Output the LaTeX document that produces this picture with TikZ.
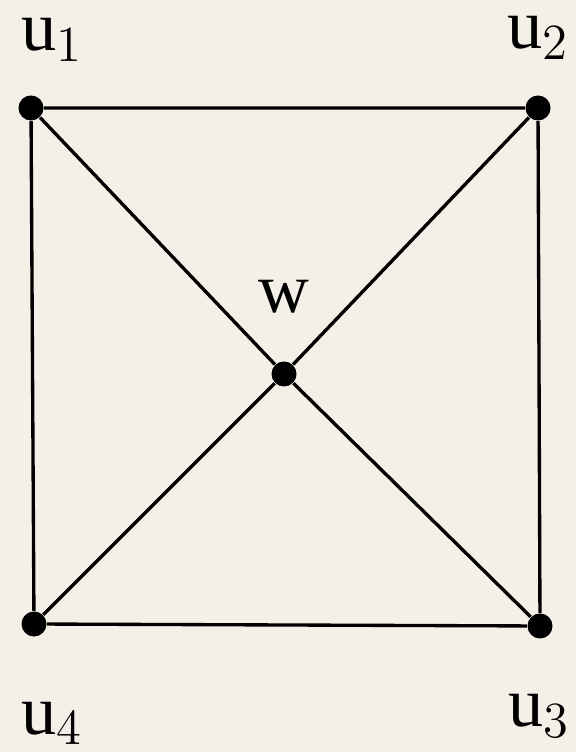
\documentclass[tikz,border=0pt]{standalone}
\usepackage{fontspec}
\setmainfont{Liberation Serif}
\usepackage{tikz}
\usetikzlibrary{positioning}
\definecolor{paper}{HTML}{F4F0E8}

\begin{document}
\begin{tikzpicture}[
  x=0.01cm, y=0.01cm,
  vertex/.style={circle, fill=black, inner sep=0pt, minimum size=0.25cm},
  lbl/.style={font=\fontsize{20}{22}\selectfont, inner sep=0pt, anchor=base west},
  edge/.style={line width=0.95pt, black}
]
\fill[paper] (0,0) rectangle (576,752);
\useasboundingbox (0,0) rectangle (576,752);

\node[vertex] (u1) at (31,644) {};
\node[vertex] (u2) at (538,644) {};
\node[vertex] (u3) at (540,126) {};
\node[vertex] (u4) at (34,128) {};
\node[vertex] (w)  at (284,378) {};

\node[lbl] (l1) at (21,701) {u$_1$};
\node[lbl] (l2) at (507,703) {u$_2$};
\node[lbl] (l3) at (508,25) {u$_3$};
\node[lbl] (l4) at (21,18) {u$_4$};
\node[lbl, anchor=base] (lw) at (284,439) {w};

\draw[edge] (u1) -- (u2) -- (u3) -- (u4) -- (u1);
\draw[edge] (u1) -- (w) -- (u3);
\draw[edge] (u2) -- (w) -- (u4);
\end{tikzpicture}
\end{document}
